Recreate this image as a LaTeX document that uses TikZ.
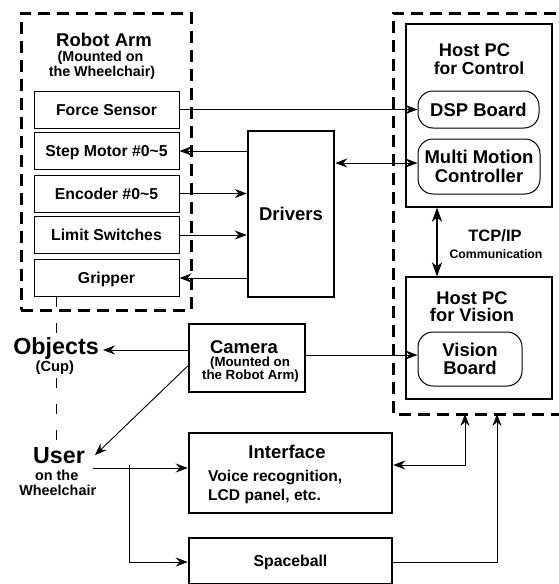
\documentclass[tikz,border=0pt]{standalone}
\usepackage{fontspec}
\setmainfont{Liberation Sans}
\usetikzlibrary{arrows.meta}
\newcommand\fsz[1]{\fontsize{#1}{#1}\selectfont\bfseries}
\begin{document}
\begin{tikzpicture}[x=1pt,y=-1pt,
  ln/.style={line width=0.9pt},
  arr/.style={ln,-{Stealth[length=12pt,width=9pt,inset=4pt]}},
  darr/.style={ln,{Stealth[length=12pt,width=9pt,inset=4pt]}-{Stealth[length=12pt,width=9pt,inset=4pt]}},
  dashedbox/.style={draw,line width=3pt,dash pattern=on 12pt off 7pt},
  thindash/.style={line width=0.9pt,dash pattern=on 10pt off 16pt},
  armbox/.style={draw,line width=1pt,inner sep=0pt,minimum width=145pt,minimum height=37pt,
    text height=11.3pt,text depth=0pt,font=\fsz{15.8}},
  tbox/.style={draw,line width=2.5pt,inner sep=0pt},
  pcbox/.style={draw,line width=1.1pt,inner sep=0pt},
  rbox/.style={draw,line width=1pt,rounded corners=15pt,inner sep=0pt,align=center},
  lbl/.style={inner sep=0pt,anchor=base},
]
\useasboundingbox (0,0) rectangle (559,584);
% left group
\node[dashedbox,minimum width=170pt,minimum height=297pt,inner sep=0pt] (arm) at (106,161.5) {};
\node[lbl,font=\fsz{18.5}] (armt) at (104,46) {Robot Arm};
\node[lbl,font=\fsz{14.3}] (armt2) at (100.5,61.7) {(Mounted on};
\node[lbl,font=\fsz{14.3}] (armt3) at (102,76) {the Wheelchair)};
\node[armbox] (force) at (106.5,109.5) {Force Sensor};
\node[armbox] (step) at (106.5,151) {Step Motor \#0\textasciitilde5};
\node[armbox] (enc) at (106.5,193.5) {Encoder \#0\textasciitilde5};
\node[armbox] (lim) at (106.5,235) {Limit Switches};
\node[armbox] (grip) at (106.5,278) {Gripper};
% drivers
\node[tbox,minimum width=86pt,minimum height=166pt,font=\fsz{18.5},text height=13.2pt,text depth=0pt] (drv) at (291,214) {Drivers};
% right group
\draw[dashedbox] (575,13) -| (393,414) -- (575,414);
\coordinate (gbot1) at (465,414);
\coordinate (gbot2) at (497,414);
\node[pcbox,minimum width=146pt,minimum height=183pt] (hpc) at (479,115.5) {};
\node[lbl,font=\fsz{18.3}] (hpct1) at (474.5,56.7) {Host PC};
\node[lbl,font=\fsz{17.5}] (hpct2) at (479,74) {for Control};
\node[rbox,minimum width=121pt,minimum height=37pt,font=\fsz{18.5},text height=13.2pt,text depth=0pt] (dsp) at (478.5,109.5) {DSP Board};
\node[rbox,minimum width=122pt,minimum height=55pt,font=\fsz{18.5}] (mmc) at (479,166.5) {Multi Motion\\Controller};
\node[pcbox,minimum width=146pt,minimum height=122pt] (hpv) at (479,338) {};
\node[lbl,font=\fsz{18.3}] (hpvt1) at (472,304) {Host PC};
\node[lbl,font=\fsz{18.3}] (hpvt2) at (472,321.7) {for Vision};
\node[rbox,minimum width=104pt,minimum height=54pt,font=\fsz{18.5}] (vis) at (470,359) {Vision\\Board};
\node[lbl,font=\fsz{16.5}] (tcp) at (495,241) {TCP/IP};
\node[lbl,font=\fsz{12.3}] (comm) at (496,258) {Communication};
% camera
\node[tbox,minimum width=116pt,minimum height=68pt] (cam) at (247,358) {};
\node[lbl,font=\fsz{18.5}] (camt1) at (244,353) {Camera};
\node[lbl,font=\fsz{13.3}] (camt2) at (250,366.7) {(Mounted on};
\node[lbl,font=\fsz{13.3}] (camt3) at (250.5,379) {the Robot Arm)};
% objects, user
\node[lbl,font=\fsz{23.3},inner sep=4pt] (obj) at (56,354) {Objects};
\node[lbl,font=\fsz{14.7}] (cup) at (54.8,371) {(Cup)};
\node[lbl,font=\fsz{23.2},inner sep=4pt] (user) at (59,463) {User};
\node[lbl,font=\fsz{14.4}] (ut2) at (56.7,480) {on the};
\node[lbl,font=\fsz{14.4}] (ut3) at (57.7,495.7) {Wheelchair};
% interface, spaceball
\node[tbox,minimum width=203pt,minimum height=80pt] (ifc) at (290.5,473) {};
\node[lbl,font=\fsz{18.5}] (ifct) at (287,458.3) {Interface};
\node[lbl,font=\fsz{15.6},anchor=base west] (ifc2) at (208,481) {Voice recognition,};
\node[lbl,font=\fsz{15.6},anchor=base west] (ifc3) at (208,500) {LCD panel, etc.};
\node[tbox,minimum width=203pt,minimum height=46pt,font=\fsz{15.8},text height=11.3pt,text depth=0pt] (spb) at (290.5,561) {Spaceball};
% connectors
\draw[arr] (force.east) -- (dsp.west);
\draw[arr] (step.east -| drv.west) -- (step.east);
\draw[arr] (enc.east) -- (enc.east -| drv.west);
\draw[arr] (lim.east) -- (lim.east -| drv.west);
\draw[arr] (grip.east -| drv.west) -- (grip.east);
\draw[darr] ([yshift=3.5pt]mmc.west -| drv.east) -- ([yshift=3.5pt]mmc.west);
\draw[line width=2.5pt,{Stealth[length=14pt,width=10pt,inset=4pt]}-{Stealth[length=14pt,width=10pt,inset=4pt]}]
  ([xshift=-42pt]hpc.south) -- ([xshift=-42pt]hpv.north);
\draw[arr] ([yshift=4pt]vis.west -| cam.east) -- ([yshift=4pt]vis.west);
\draw[arr] ([yshift=8pt]cam.west) -- ([yshift=8pt]cam.west -| obj.east);
\draw[arr] ([yshift=-8pt]cam.west) -- ([xshift=6pt]user.east);
\draw[thindash] (grip.south -| obj.north) -- ([yshift=-1pt]obj.north);
\draw[thindash] ([yshift=-4pt]cup.south -| obj.north) -- (user.north -| obj.north);
\coordinate (ustart) at (93,468);
\coordinate (br) at (129,468);
\draw[arr] (ustart) -- (ustart -| ifc.west);
\draw[arr] ([yshift=3pt]br) |- ([yshift=-1pt]spb.west);
\draw[darr] ([yshift=8pt]ifc.east) -| (gbot1);
\draw[arr] ([yshift=-1pt]spb.east) -| (gbot2);
\end{tikzpicture}
\end{document}
